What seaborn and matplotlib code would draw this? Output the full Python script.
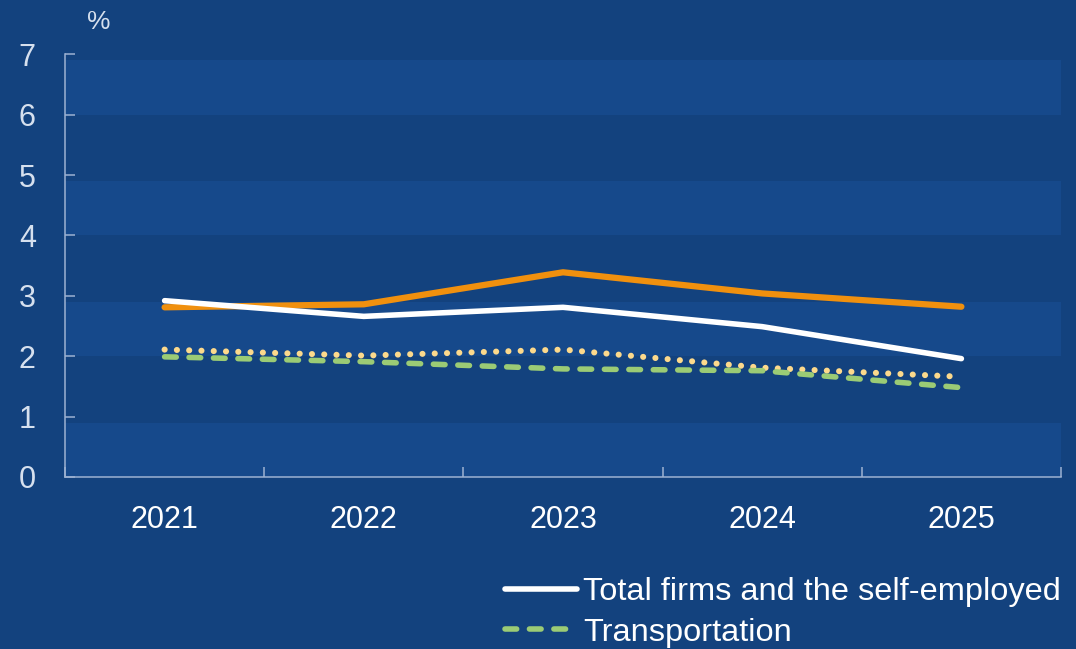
import matplotlib
matplotlib.use("Agg")
import matplotlib.pyplot as plt
import seaborn as sns
import pandas as pd

# Data
years = ["2021", "2022", "2023", "2024", "2025"]
total_firms = [2.92, 2.66, 2.81, 2.49, 1.96]
orange_series = [2.81, 2.86, 3.39, 3.04, 2.82]
dotted_series = [2.11, 2.01, 2.11, 1.81, 1.66]
transportation = [1.99, 1.91, 1.79, 1.76, 1.48]
y_ticks = [0, 1, 2, 3, 4, 5, 6, 7]

BG = "#13427E"
BAND = "#16498B"
AXIS = "#9DB2D2"
YLAB = "#D6E0EE"

sns.set_theme(style="white")
plt.rcParams["font.family"] = ["Liberation Sans", "DejaVu Sans"]

fig = plt.figure(figsize=(10.76, 6.49), dpi=100, facecolor=BG)
ax = fig.add_axes([65 / 1076, 1 - 477 / 649, (1061 - 65) / 1076, (477 - 54.3) / 649])
ax.set_facecolor(BG)

# alternating horizontal bands
for lo in range(0, 7, 2):
    ax.axhspan(lo, lo + 0.9, color=BAND, lw=0, zorder=0)

df = pd.DataFrame({
    "x": range(len(years)),
    "total": total_firms,
    "orange": orange_series,
    "dotted": dotted_series,
    "transport": transportation,
})

sns.lineplot(data=df, x="x", y="orange", ax=ax, color="#F0900E", lw=4.5,
             solid_capstyle="round", legend=False, zorder=3)
sns.lineplot(data=df, x="x", y="total", ax=ax, color="white", lw=4.0,
             solid_capstyle="round", label="Total firms and the self-employed", zorder=4)
sns.lineplot(data=df, x="x", y="dotted", ax=ax, color="#FCD98C", lw=4.4,
             legend=False, zorder=3)
ax.lines[-1].set_dashes((0.01, 2.0))
ax.lines[-1].set_dash_capstyle("round")
sns.lineplot(data=df, x="x", y="transport", ax=ax, color="#9BCB75", lw=4.0,
             label="Transportation", zorder=3)
ax.lines[-1].set_dashes((2.1, 2.3))
ax.lines[-1].set_dash_capstyle("round")

ax.set_xlim(-0.5, len(years) - 0.5)
ax.set_ylim(0, 7)
ax.set_yticks(y_ticks)
ax.set_yticklabels([str(v) for v in y_ticks], color=YLAB, fontsize=22)

# category boundaries as major ticks, labels at centres
ax.set_xticks([i - 0.5 for i in range(len(years) + 1)])
ax.set_xticklabels([])
ax.set_xticks(range(len(years)), minor=True)
ax.set_xticklabels(years, minor=True, color="white", fontsize=22)
ax.tick_params(axis="x", which="minor", bottom=True, length=0, pad=20)
ax.tick_params(axis="x", which="major", bottom=True, direction="in",
               length=7.5, width=1.1, color=AXIS)
ax.tick_params(axis="y", left=True, direction="in", length=7.5, width=1.1,
               color=AXIS, pad=21)

for side in ("top", "right"):
    ax.spines[side].set_visible(False)
for side in ("left", "bottom"):
    ax.spines[side].set_color(AXIS)
    ax.spines[side].set_linewidth(1.1)
ax.set_xlabel("")
ax.set_ylabel("")

fig.text(87 / 1076, 1 - 22 / 649, "%", color=YLAB, fontsize=19, va="center", ha="left")

handles, labels = ax.get_legend_handles_labels()
if ax.legend_:
    ax.legend_.remove()
leg = fig.legend(handles, labels, loc="upper left",
                 bbox_to_anchor=(505 / 1076, 1 - 577 / 649), frameon=False,
                 fontsize=23.4, handlelength=2.2, handletextpad=0.2,
                 labelspacing=0.33, borderpad=0, borderaxespad=0)
for t in leg.get_texts():
    t.set_color("white")

fig.savefig("out.png", dpi=100, facecolor=BG)
